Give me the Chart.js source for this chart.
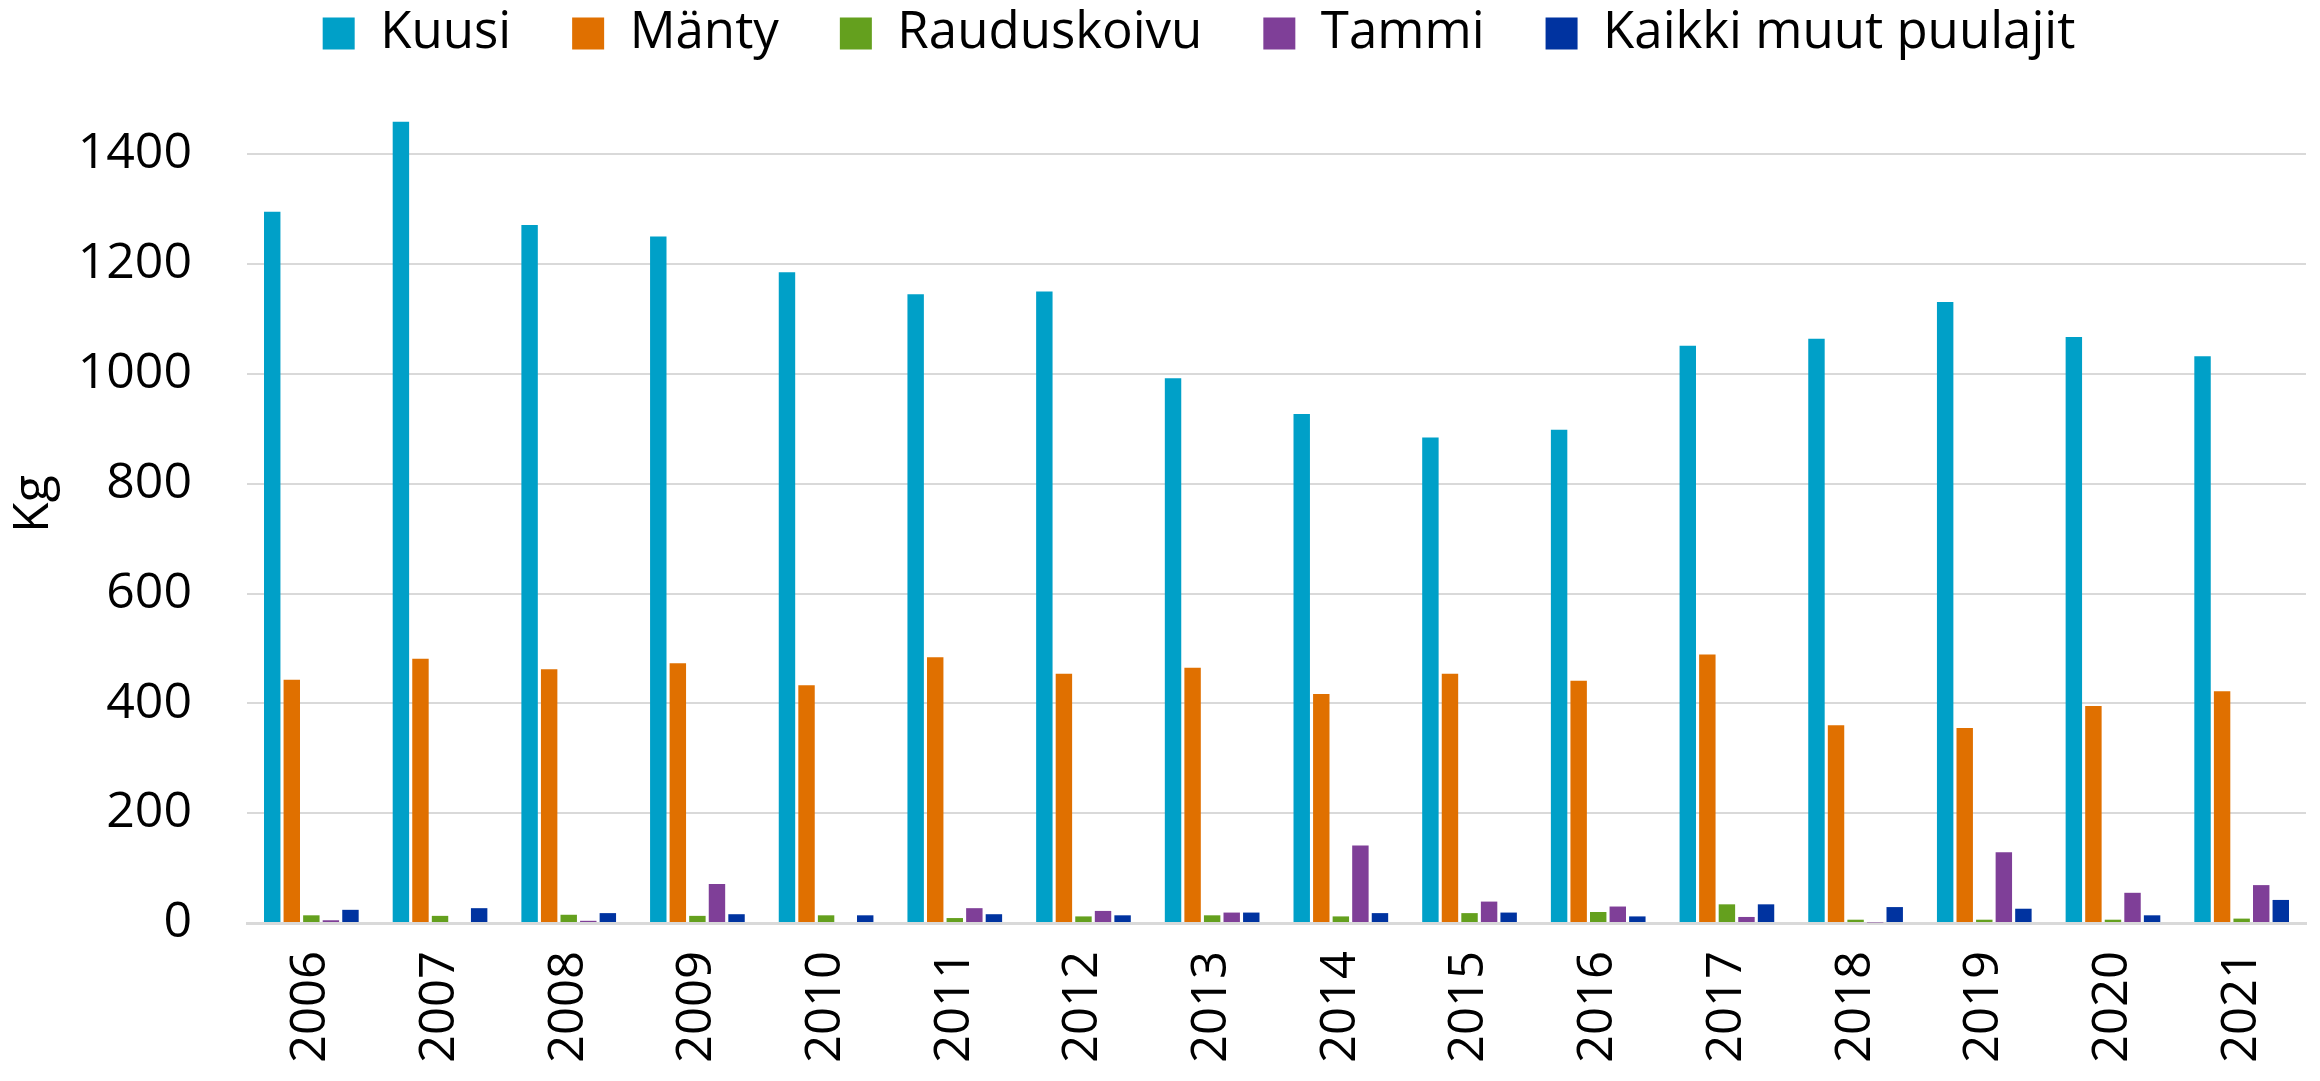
<!DOCTYPE html>
<html>
<head>
<meta charset="utf-8">
<script src="https://cdn.jsdelivr.net/npm/chart.js@4/dist/chart.umd.min.js"></script>
<style>
  html, body { margin: 0; padding: 0; background: #ffffff; }
  #wrap { width: 2320px; height: 1081px; }
</style>
</head>
<body>
<div id="wrap"><canvas id="c" width="2320" height="1081"></canvas></div>
<script>
const years = ["2006","2007","2008","2009","2010","2011","2012","2013","2014","2015","2016","2017","2018","2019","2020","2021"];
const kuusi = [1295,1459,1271,1250,1185,1145,1150,992,927,884,898,1051,1064,1131,1067,1032];
const manty = [443,481,462,473,433,484,454,465,417,454,441,489,360,355,395,422];
const rauduskoivu = [14,13,15,13,14,9,12,14,12,18,20,34,6,6,6,8];
const tammi = [5,0,4,71,0,27,22,19,141,39,30,11,1,129,55,69];
const muut = [24,27,18,16,14,16,14,19,18,19,12,34,29,26,14,42];
const seriesNames = ["Kuusi","Mänty","Rauduskoivu","Tammi","Kaikki muut puulajit"];
const yTicks = [0,200,400,600,800,1000,1200,1400];
const yAxisTitle = "Kg";

const colors = ["#00A0C8","#E07000","#64A01E","#7F3F98","#0033A0"];
const FONT = "'Open Sans', 'Noto Sans', sans-serif";
const seriesData = [kuusi, manty, rauduskoivu, tammi, muut];

const legendShift = {
  id: 'legendShift',
  afterLayout(chart) {
    if (chart.legend) {
      chart.legend.left += 46;
      chart.legend.right += 46;
      chart.legend.top -= 16;
      chart.legend.bottom -= 16;
    }
  }
};

new Chart(document.getElementById('c'), {
  type: 'bar',
  data: {
    labels: years,
    datasets: seriesNames.map((n, i) => ({
      label: n,
      data: seriesData[i],
      backgroundColor: colors[i],
      borderWidth: 0,
      categoryPercentage: 0.76,
      barPercentage: 0.84
    }))
  },
  plugins: [legendShift],
  options: {
    responsive: false,
    animation: false,
    layout: { padding: { left: 0, right: 14, top: -55, bottom: 0 } },
    plugins: {
      legend: {
        position: 'top',
        labels: {
          font: { family: FONT, size: 51 },
          color: '#000000',
          boxWidth: 32,
          boxHeight: 32,
          padding: 61
        }
      },
      tooltip: { enabled: false }
    },
    scales: {
      x: {
        grid: { display: false, drawTicks: false },
        border: { display: true, color: '#D9D9D9', width: 3 },
        ticks: {
          font: { family: FONT, size: 49 },
          color: '#000000',
          minRotation: 90,
          maxRotation: 90,
          padding: 28,
          autoSkip: false
        },
        afterFit: s => { s.height = 158; s.paddingLeft = 0; s.paddingRight = 0; }
      },
      y: {
        min: 0,
        max: 1526,
        grid: { color: '#D9D9D9', lineWidth: 2, drawTicks: false },
        border: { display: false },
        ticks: {
          font: { family: FONT, size: 50 },
          color: '#000000',
          padding: 55,
          callback: v => String(v)
        },
        afterBuildTicks: s => { s.ticks = yTicks.map(v => ({ value: v })); },
        title: {
          display: true,
          text: yAxisTitle,
          font: { family: FONT, size: 50 },
          color: '#000000',
          padding: { top: 4, bottom: 0 }
        },
        afterFit: s => { s.width = 247; }
      }
    }
  }
});
</script>
</body>
</html>
